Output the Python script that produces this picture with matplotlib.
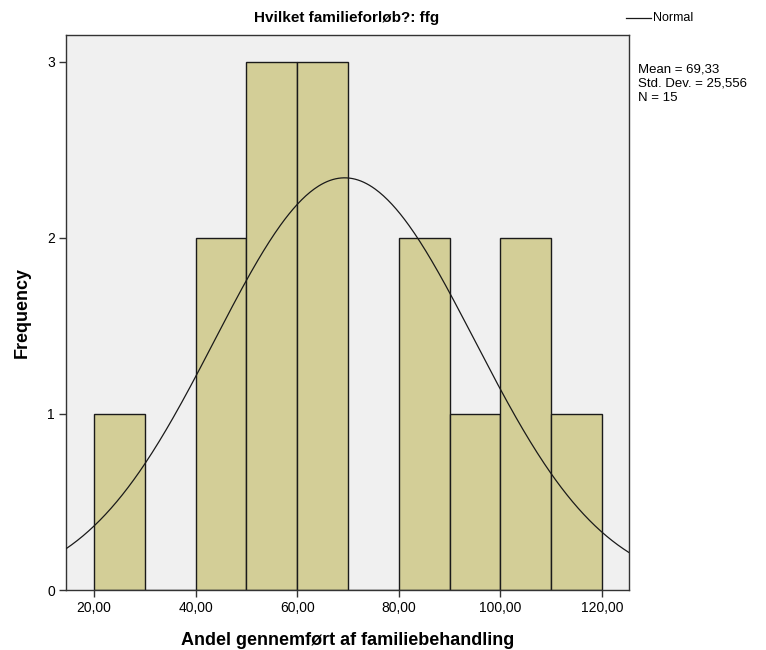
import numpy as np
import matplotlib
matplotlib.use("Agg")
import matplotlib.pyplot as plt

plt.rcParams['font.family'] = ['Liberation Sans', 'DejaVu Sans']

# histogram data: bin edges (width 10) and counts
bin_edges = [20, 30, 40, 50, 60, 70, 80, 90, 100, 110, 120]
counts = [1, 0, 2, 3, 3, 0, 2, 1, 2, 1]
mean = 69.33
std = 25.556
n = 15
xticks = [20, 40, 60, 80, 100, 120]
yticks = [0, 1, 2, 3]

fig = plt.figure(figsize=(7.66, 6.5), dpi=100)
ax = fig.add_axes([66/766, 60/650, 563/766, 555/650])
ax.set_facecolor('#f0f0f0')

lefts = bin_edges[:-1]
widths = np.diff(bin_edges)
ax.bar(lefts, counts, width=widths, align='edge', color='#d3ce97',
       edgecolor='#1a1a1a', linewidth=1.0, zorder=2)

# normal curve scaled to counts
x0, x1 = 14.49, 125.3
xs = np.linspace(x0, x1, 400)
bw = widths[0]
ys = n * bw / (std * np.sqrt(2 * np.pi)) * np.exp(-0.5 * ((xs - mean) / std) ** 2)
ax.plot(xs, ys, color='#1a1a1a', linewidth=0.9, zorder=3)

ax.set_xlim(x0, x1)
ax.set_ylim(0, 3.153)
ax.set_xticks(xticks)
ax.set_xticklabels(['%d,00' % v for v in xticks], fontsize=10)
ax.set_yticks(yticks)
ax.set_yticklabels([str(v) for v in yticks], fontsize=10)
ax.tick_params(direction='out', length=5, width=1, color='#333333', pad=3)
for s in ax.spines.values():
    s.set_color('#333333')
    s.set_linewidth(1.0)

ax.set_xlabel('Andel gennemført af familiebehandling', fontsize=13,
              fontweight='bold', labelpad=12)
ax.set_ylabel('Frequency', fontsize=13, fontweight='bold', labelpad=12)
fig.text(347/766, 1 - 18/650, 'Hvilket familieforløb?: ffg', fontsize=11,
         fontweight='bold', ha='center', va='center')

# legend entry
fig.add_artist(plt.Line2D([626/766, 651/766], [1 - 18/650, 1 - 18/650],
                          color='#1a1a1a', linewidth=0.9))
fig.text(653/766, 1 - 18/650, 'Normal', fontsize=9, ha='left', va='center')

stats = 'Mean = %s\nStd. Dev. = %s\nN = %d' % (
    ('%.2f' % mean).replace('.', ','), ('%.3f' % std).replace('.', ','), n)
fig.text(638/766, 1 - 64/650, stats, fontsize=9.5, ha='left', va='top',
         linespacing=1.2)

fig.savefig('out.png', dpi=100)
